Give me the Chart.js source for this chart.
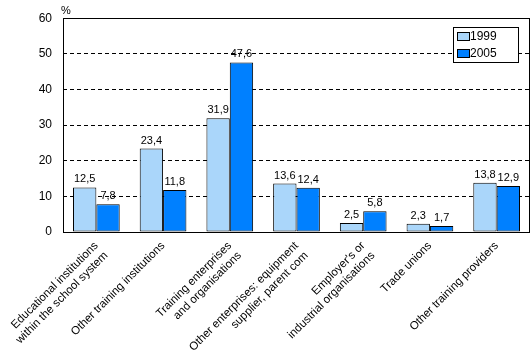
<!DOCTYPE html>
<html>
<head>
<meta charset="utf-8">
<script src="https://cdn.jsdelivr.net/npm/chart.js@4/dist/chart.umd.min.js"></script>
<style>
  html, body { margin: 0; padding: 0; background: #fff; }
  #wrap { width: 532px; height: 360px; position: relative; }
</style>
</head>
<body>
<div id="wrap"><canvas id="chart"></canvas></div>
<script>
'use strict';

// data
const categories = [
  ['Educational institutions', 'within the school system'],
  'Other training institutions',
  ['Training enterprises', 'and organisations'],
  ['Other enterprises: equipment', 'supplier, parent com'],
  ['Employer\'s or', 'industrial organisations'],
  'Trade unions',
  'Other training providers'
];
const seriesNames = ['1999', '2005'];
const values1999 = [12.5, 23.4, 31.9, 13.6, 2.5, 2.3, 13.8];
const values2005 = [7.8, 11.8, 47.6, 12.4, 5.8, 1.7, 12.9];
const yTicks = [0, 10, 20, 30, 40, 50, 60];

const colLight = '#aad6fa';
const colDark = '#0080ff';
const FONT = 'Liberation Sans, Arial, sans-serif';

function fmt(v) { return v.toFixed(1).replace('.', ','); }

// values above bars, frame, % sign and the boxed legend
const decorations = {
  id: 'decorations',
  afterDatasetsDraw: function(chart) {
    const ctx = chart.ctx;
    const a = chart.chartArea;
    ctx.save();
    // frame
    ctx.strokeStyle = '#000';
    ctx.lineWidth = 1;
    ctx.setLineDash([]);
    ctx.strokeRect(Math.round(a.left) + 0.5, Math.round(a.top) + 0.5, Math.round(a.right - a.left) - 1, Math.round(a.bottom - a.top));

    // value labels
    ctx.font = '11px ' + FONT;
    ctx.fillStyle = '#000';
    ctx.textAlign = 'center';
    ctx.textBaseline = 'alphabetic';
    chart.data.datasets.forEach(function(ds, i) {
      chart.getDatasetMeta(i).data.forEach(function(bar, j) {
        ctx.fillText(fmt(ds.data[j]), bar.x, bar.y - 5);
      });
    });

    // % sign
    ctx.textAlign = 'left';
    ctx.textBaseline = 'bottom';
    ctx.fillText('%', a.left - 2, a.top - 2);

    // legend box
    const lx = 453, ly = 27, lw = 65, lh = 35;
    ctx.fillStyle = '#fff';
    ctx.fillRect(lx, ly, lw, lh);
    ctx.strokeStyle = '#000';
    ctx.strokeRect(lx + 0.5, ly + 0.5, lw, lh);
    ctx.textBaseline = 'middle';
    ctx.font = '12px ' + FONT;
    chart.data.datasets.forEach(function(ds, i) {
      const y = ly + 9 + i * 17;
      ctx.fillStyle = ds.backgroundColor;
      ctx.fillRect(lx + 4, y - 4, 12, 8);
      ctx.strokeRect(lx + 4.5, y - 3.5, 12, 8);
      ctx.fillStyle = '#000';
      ctx.fillText(ds.label, lx + 17, y + 1);
    });
    ctx.restore();
  }
};

new Chart(document.getElementById('chart'), {
  type: 'bar',
  data: {
    labels: categories,
    datasets: [
      { label: seriesNames[0], data: values1999, backgroundColor: colLight, borderColor: '#000', borderWidth: 1, borderSkipped: false, categoryPercentage: 0.7, barPercentage: 1.0 },
      { label: seriesNames[1], data: values2005, backgroundColor: colDark, borderColor: '#000', borderWidth: 1, borderSkipped: false, categoryPercentage: 0.7, barPercentage: 1.0 }
    ]
  },
  options: {
    responsive: true,
    maintainAspectRatio: false,
    animation: false,
    layout: { padding: { top: 17, right: 2, left: 0, bottom: 0 } },
    plugins: {
      legend: { display: false },
      tooltip: { enabled: false }
    },
    scales: {
      x: {
        grid: { display: false, drawTicks: false },
        border: { display: false },
        ticks: { color: '#000', font: { family: FONT, size: 11.5 }, minRotation: 45, maxRotation: 45, padding: 7 },
        afterFit: function(s) { s.height = 128; s.paddingLeft = 0; s.paddingRight = 0; }
      },
      y: {
        min: yTicks[0],
        max: yTicks[yTicks.length - 1],
        afterBuildTicks: function(s) { s.ticks = yTicks.map(function(v) { return { value: v }; }); },
        grid: {
          drawTicks: false,
          color: function(c) { return (c.tick.value === 0 || c.tick.value === 60) ? 'rgba(0,0,0,0)' : '#000'; },
          lineWidth: 1
        },
        border: { display: false, dash: [4, 3] },
        ticks: { color: '#000', font: { family: FONT, size: 12 }, padding: 11 },
        afterFit: function(s) { s.width = 63; }
      }
    }
  },
  plugins: [decorations]
});
</script>
</body>
</html>
